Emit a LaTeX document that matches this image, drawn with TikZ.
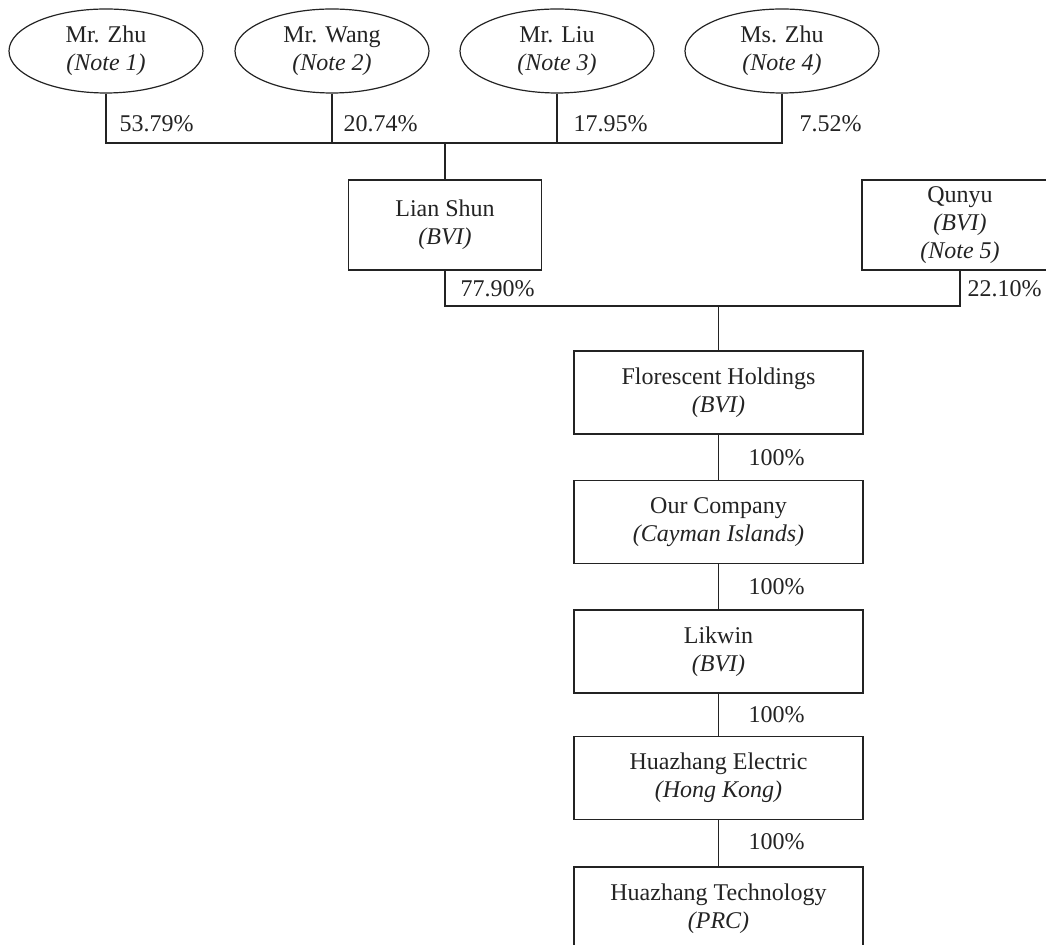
\documentclass[tikz,border=0pt]{standalone}
\usepackage{fontspec}
\setmainfont{Liberation Serif}
\usetikzlibrary{shapes.geometric}
\definecolor{ink}{RGB}{35,35,35}

\begin{document}
\begin{tikzpicture}[x=0.5pt,y=-0.5pt,line width=0.6pt,draw=ink,
    every node/.style={text=ink,font=\fontsize{12}{14}\selectfont},
    person/.style={draw=ink,ellipse,minimum width=97pt,minimum height=42pt,inner sep=0pt,align=center},
    firm/.style={draw=ink,rectangle,inner sep=0pt,align=center,minimum width=144.5pt,minimum height=41.5pt},
    pct/.style={anchor=west,inner sep=0pt}]
          \useasboundingbox (0,0) rectangle (1046,945);
          \node[person] (zhu) at (106,51) {Mr. Zhu\\\textit{(Note 1)}};
          \node[person] (wang) at (332,51) {Mr. Wang\\\textit{(Note 2)}};
          \node[person] (liu) at (557,51) {Mr. Liu\\\textit{(Note 3)}};
          \node[person] (mszhu) at (782,51) {Ms. Zhu\\\textit{(Note 4)}};

          \node[firm,minimum width=96.5pt,minimum height=45pt] (lian) at (445,225) {Lian Shun\\\textit{(BVI)}};
          \node[firm,minimum width=98pt,minimum height=45pt] (qunyu) at (960,225) {Qunyu\\\textit{(BVI)}\\\textit{(Note 5)}};

          \node[firm] (flor) at (718.5,392.5) {Florescent Holdings\\\textit{(BVI)}};
          \node[firm] (ourco) at (718.5,522) {Our Company\\\textit{(Cayman Islands)}};
          \node[firm] (likwin) at (718.5,651.5) {Likwin\\\textit{(BVI)}};
          \node[firm] (hkelec) at (718.5,778) {Huazhang Electric\\\textit{(Hong Kong)}};
          \node[firm] (prctech) at (718.5,908.5) {Huazhang Technology\\\textit{(PRC)}};

          \coordinate (top) at (445,143);
          \coordinate (mid) at (718.5,306);
          \draw (zhu.south) -- (zhu.south |- top) -- (mszhu.south |- top) -- (mszhu.south)
          (wang.south) -- (wang.south |- top)
          (liu.south) -- (liu.south |- top)
          (top) -- (lian.north);
          \draw (lian.south) -- (lian.south |- mid) -- (qunyu.south |- mid) -- (qunyu.south)
          (mid) -- (flor.north);
          \draw (flor) -- (ourco) -- (likwin) -- (hkelec) -- (prctech);

          \node[pct] (pzhu) at (119,124) {53.79\%};
          \node[pct] (pwang) at (343,124) {20.74\%};
          \node[pct] (pliu) at (573,124) {17.95\%};
          \node[pct] (pmszhu) at (799,124) {7.52\%};
          \node[pct] (plian) at (460,289) {77.90\%};
          \node[pct] (pqunyu) at (967,289) {22.10\%};
          \node[pct] (pflor) at (748,458) {100\%};
          \node[pct] (pourco) at (748,587) {100\%};
          \node[pct] (plikwin) at (748,715) {100\%};
          \node[pct] (phkelec) at (748,842) {100\%};
        \end{tikzpicture}
\end{document}
